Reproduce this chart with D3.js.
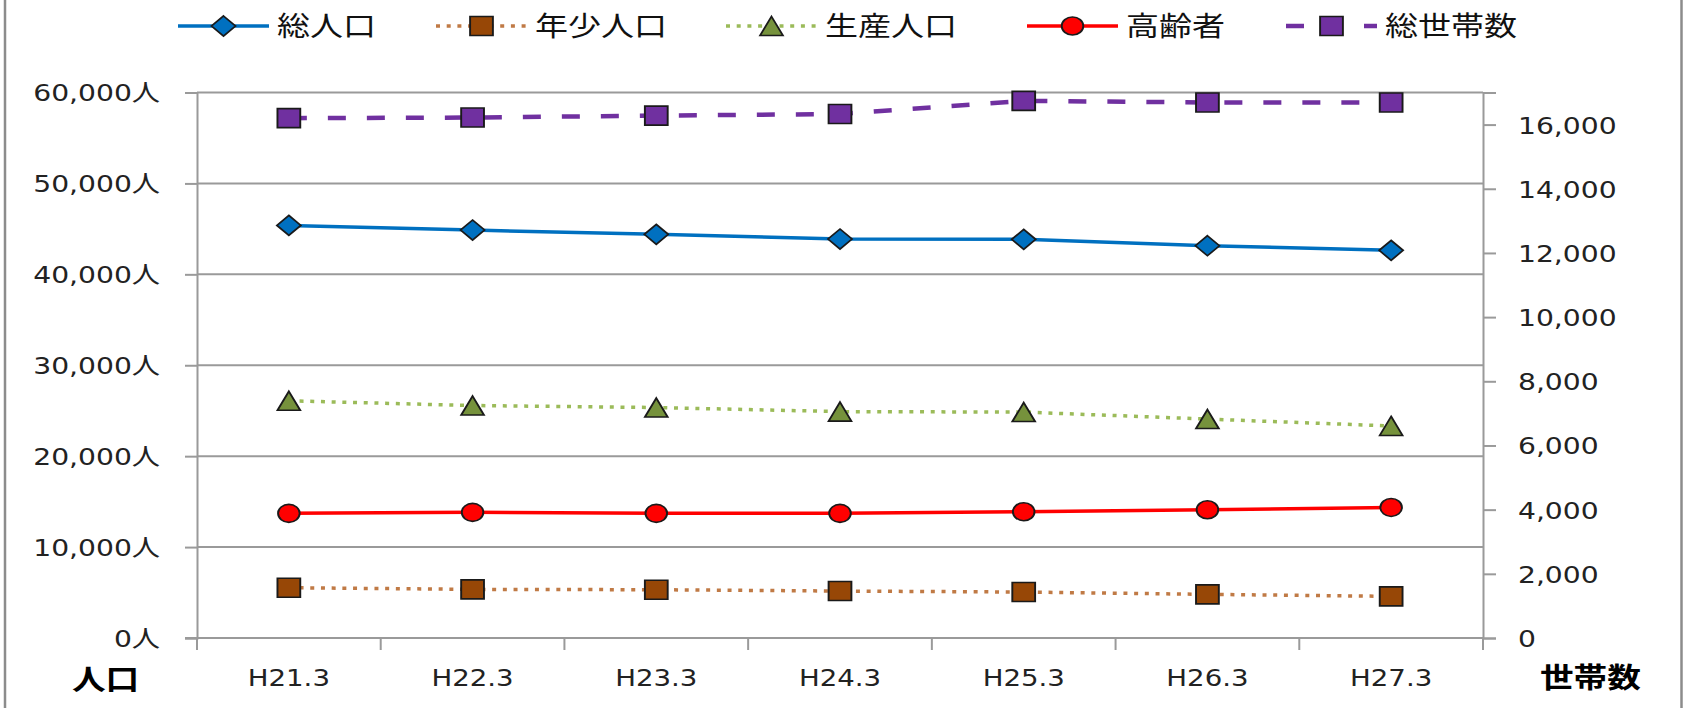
<!DOCTYPE html>
<html>
<head>
<meta charset="utf-8">
<script src="https://cdn.jsdelivr.net/npm/d3@7"></script>
<style>
  html, body { margin: 0; padding: 0; background: #fff; }
  svg { display: block; }
</style>
</head>
<body>
<div id="chart"></div>
<script>
// ---- data ----
const categories = ["H21.3", "H22.3", "H23.3", "H24.3", "H25.3", "H26.3", "H27.3"];
const totalPop   = [45380, 44870, 44400, 43880, 43850, 43150, 42640];
const youthPop   = [5530, 5350, 5310, 5165, 5055, 4800, 4580];
const workingPop = [26090, 25570, 25350, 24900, 24850, 24080, 23320];
const elderlyPop = [13710, 13820, 13710, 13710, 13890, 14110, 14360];
const households = [16200, 16220, 16280, 16330, 16740, 16690, 16690];

const leftTicks  = [0, 10000, 20000, 30000, 40000, 50000, 60000];
const rightTicks = [0, 2000, 4000, 6000, 8000, 10000, 12000, 14000, 16000];
const seriesNames = ["総人口", "年少人口", "生産人口", "高齢者", "総世帯数"];

// ---- layout ----
const WIDTH = 1688, HEIGHT = 708;
const PLOT = { left: 197, right: 1483, top: 92.5, bottom: 638 };
const SX = 1.2;           // the picture is stretched sideways; text and markers follow
const GRID = "#9a9a9a";
const NUM_FONT = "'DejaVu Sans', 'Noto Sans CJK JP', sans-serif";
const JP_FONT = "'Noto Sans CJK JP', sans-serif";

// custom marker shapes, centred on their box
const diamond = { draw(ctx, size) { const r = Math.sqrt(size) / 2;
  ctx.moveTo(0, -r); ctx.lineTo(r, 0); ctx.lineTo(0, r); ctx.lineTo(-r, 0); ctx.closePath(); } };
const square = { draw(ctx, size) { const r = Math.sqrt(size) / 2; ctx.rect(-r, -r, 2 * r, 2 * r); } };
const triangle = { draw(ctx, size) { const r = Math.sqrt(size) / 2;
  ctx.moveTo(0, -r); ctx.lineTo(r, r); ctx.lineTo(-r, r); ctx.closePath(); } };
const circle = { draw(ctx, size) { const r = Math.sqrt(size) / 2; ctx.arc(0, 0, r, 0, 2 * Math.PI); } };

const series = [
  { name: seriesNames[0], values: totalPop,   axis: "L", line: "#0070C0", width: 3.5, dash: null,    shape: diamond,  size: 20 * 20, fill: "#0070C0" },
  { name: seriesNames[1], values: youthPop,   axis: "L", line: "#C07A45", width: 3.5, dash: "4,6.7", shape: square,   size: 19 * 19, fill: "#974706" },
  { name: seriesNames[2], values: workingPop, axis: "L", line: "#9BBB59", width: 3.5, dash: "4,6.7", shape: triangle, size: 19 * 19, fill: "#76923C" },
  { name: seriesNames[3], values: elderlyPop, axis: "L", line: "#FF0000", width: 3.5, dash: null,    shape: circle,   size: 18 * 18, fill: "#FF0000" },
  { name: seriesNames[4], values: households, axis: "R", line: "#7030A0", width: 4.5, dash: "18,21", shape: square,   size: 19 * 19, fill: "#7030A0" }
];

const svg = d3.select("#chart").append("svg")
  .attr("width", WIDTH).attr("height", HEIGHT);

// outer frame edges
svg.append("line").attr("x1", 5).attr("x2", 5).attr("y1", 0).attr("y2", HEIGHT)
  .attr("stroke", "#8c8c8c").attr("stroke-width", 2.5);
svg.append("line").attr("x1", 1681.5).attr("x2", 1681.5).attr("y1", 0).attr("y2", HEIGHT)
  .attr("stroke", "#8c8c8c").attr("stroke-width", 2.5);

// ---- scales ----
const x = d3.scaleBand().domain(categories).range([PLOT.left, PLOT.right]);
const yL = d3.scaleLinear().domain([0, 60000]).range([PLOT.bottom, PLOT.top]);
const yR = d3.scaleLinear().domain([0, 17000]).range([PLOT.bottom, PLOT.top]);
const cx = (c) => x(c) + x.bandwidth() / 2;

// gridlines
svg.append("g").selectAll("line").data(leftTicks).join("line")
  .attr("x1", PLOT.left).attr("x2", PLOT.right)
  .attr("y1", (d) => yL(d)).attr("y2", (d) => yL(d))
  .attr("stroke", GRID).attr("stroke-width", 2);

// left axis
const gL = svg.append("g").attr("transform", `translate(${PLOT.left},0)`)
  .call(d3.axisLeft(yL).tickValues(leftTicks).tickSize(12)
    .tickFormat((d) => d3.format(",")(d) + "人"));
gL.select(".domain").attr("stroke", GRID).attr("stroke-width", 2);
gL.selectAll(".tick line").attr("stroke", GRID).attr("stroke-width", 2);
gL.selectAll(".tick text")
  .attr("x", -37 / SX).attr("dy", "0.36em")
  .attr("transform", `scale(${SX},1)`)
  .style("font-family", NUM_FONT).style("font-size", "23.5px").attr("fill", "#222");

// right axis
const gR = svg.append("g").attr("transform", `translate(${PLOT.right},0)`)
  .call(d3.axisRight(yR).tickValues(rightTicks).tickSize(13)
    .tickFormat(d3.format(",")));
gR.select(".domain").attr("stroke", GRID).attr("stroke-width", 2);
gR.selectAll(".tick line").attr("stroke", GRID).attr("stroke-width", 2);
gR.selectAll(".tick text")
  .attr("x", 35 / SX).attr("dy", "0.36em")
  .attr("transform", `scale(${SX},1)`)
  .style("font-family", NUM_FONT).style("font-size", "23.5px").attr("fill", "#222");

// bottom axis: labels at band centres, ticks on band edges
const gB = svg.append("g").attr("transform", `translate(0,${PLOT.bottom})`)
  .call(d3.axisBottom(x).tickSize(0).tickPadding(32));
gB.select(".domain").remove();
gB.selectAll(".tick text")
  .attr("transform", `scale(${SX},1)`)
  .style("font-family", NUM_FONT).style("font-size", "23px").attr("fill", "#222");
gB.append("line").attr("x1", PLOT.left - 12).attr("x2", PLOT.right)
  .attr("stroke", GRID).attr("stroke-width", 2);
gB.selectAll(".edge").data(categories.map((c) => x(c)).concat([PLOT.right])).join("line")
  .attr("class", "edge")
  .attr("x1", (d) => d).attr("x2", (d) => d).attr("y1", 0).attr("y2", 12)
  .attr("stroke", GRID).attr("stroke-width", 2);

// axis titles
svg.append("text").attr("transform", `translate(72,678) scale(${SX},1)`)
  .attr("dominant-baseline", "central")
  .style("font-family", JP_FONT).style("font-size", "28px").style("font-weight", "bold")
  .text("人口");
svg.append("text").attr("transform", `translate(1540,676) scale(${SX},1)`)
  .attr("dominant-baseline", "central")
  .style("font-family", JP_FONT).style("font-size", "28px").style("font-weight", "bold")
  .text("世帯数");

// ---- series ----
series.forEach((s) => {
  const y = s.axis === "L" ? yL : yR;
  const line = d3.line().x((d, i) => cx(categories[i])).y((d) => y(d));
  svg.append("path").datum(s.values)
    .attr("d", line)
    .attr("fill", "none")
    .attr("stroke", s.line)
    .attr("stroke-width", s.width)
    .attr("stroke-dasharray", s.dash);
  svg.append("g").selectAll("path").data(s.values).join("path")
    .attr("d", d3.symbol().type(s.shape).size(s.size))
    .attr("transform", (d, i) => `translate(${cx(categories[i])},${y(d)}) scale(${SX},1)`)
    .attr("fill", s.fill)
    .attr("stroke", "#1a1a1a")
    .attr("stroke-width", 1.6);
});

// ---- legend ----
const legendX = [178, 436, 726, 1027, 1286];   // start of each key line
const LEG_Y = 26, LEG_LEN = 91;
const legend = svg.append("g");
series.forEach((s, i) => {
  const g = legend.append("g").attr("transform", `translate(${legendX[i]},0)`);
  g.append("line").attr("x1", 0).attr("x2", LEG_LEN).attr("y1", LEG_Y).attr("y2", LEG_Y)
    .attr("stroke", s.line).attr("stroke-width", s.width)
    .attr("stroke-dasharray", s.dash);
  g.append("path")
    .attr("d", d3.symbol().type(s.shape).size(s.size))
    .attr("transform", `translate(${LEG_LEN / 2},${LEG_Y}) scale(${SX},1)`)
    .attr("fill", s.fill).attr("stroke", "#1a1a1a").attr("stroke-width", 1.6);
  g.append("text")
    .attr("transform", `translate(${LEG_LEN + 8},24.5) scale(${SX},1)`)
    .attr("dominant-baseline", "central")
    .style("font-family", JP_FONT).style("font-size", "27.5px").attr("fill", "#111")
    .text(s.name);
});
</script>
</body>
</html>
